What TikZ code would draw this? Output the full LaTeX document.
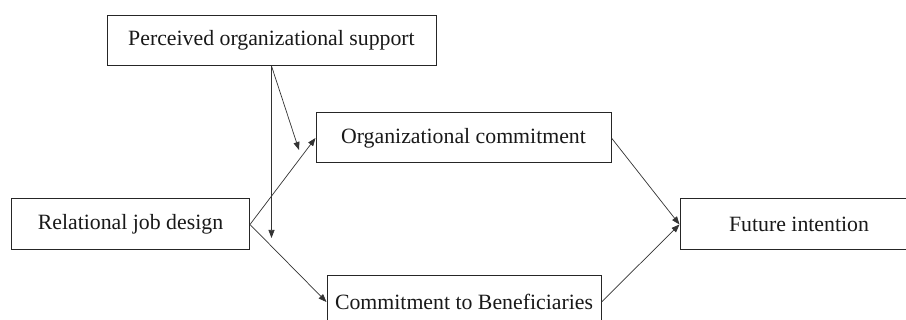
\documentclass[tikz,border=0pt]{standalone}
\usepackage{fontspec}
\setmainfont{Liberation Serif}
\usetikzlibrary{arrows.meta}
\begin{document}
\begin{tikzpicture}[x=1pt,y=-1pt,
  box/.style={draw=black!85, line width=1pt, fill=white, inner sep=0pt,
    font=\fontsize{21.8}{24}\selectfont, text=black!90},
  link/.style={draw=black!80, line width=0.7pt,
    -{Triangle[length=8pt,width=6pt]}}]
  \useasboundingbox (0,0) rectangle (906,320);
  \clip (0,0) rectangle (906,320);
  \fill[white] (0,0) rectangle (906,320);

  % variables
  \node[box, minimum width=329pt, minimum height=50pt] (pos) at (271.5,40.5) {Perceived organizational support};
  \node[box, minimum width=295pt, minimum height=50pt] (oc) at (463.5,138) {Organizational commitment};
  \node[box, minimum width=238pt, minimum height=51pt] (rjd) at (130.5,224.5) {Relational job design};
  \node[box, minimum width=238pt, minimum height=51pt] (fi) at (799,224.5) {Future intention};
  \node[box, minimum width=274pt, minimum height=52pt] (cb) at (464,302) {Commitment to Beneficiaries};

  % moderation targets
  \coordinate (modA) at (299,150);
  \coordinate (modB) at (271.5,238);

  % paths
  \draw[link] (pos.south) -- (modB);
  \draw[link] (pos.south) -- (modA);
  \draw[link] (rjd.east) -- (oc.west);
  \draw[link] (rjd.east) -- (cb.west);
  \draw[link] (oc.east) -- (fi.west);
  \draw[link] (cb.east) -- (fi.west);
\end{tikzpicture}
\end{document}
